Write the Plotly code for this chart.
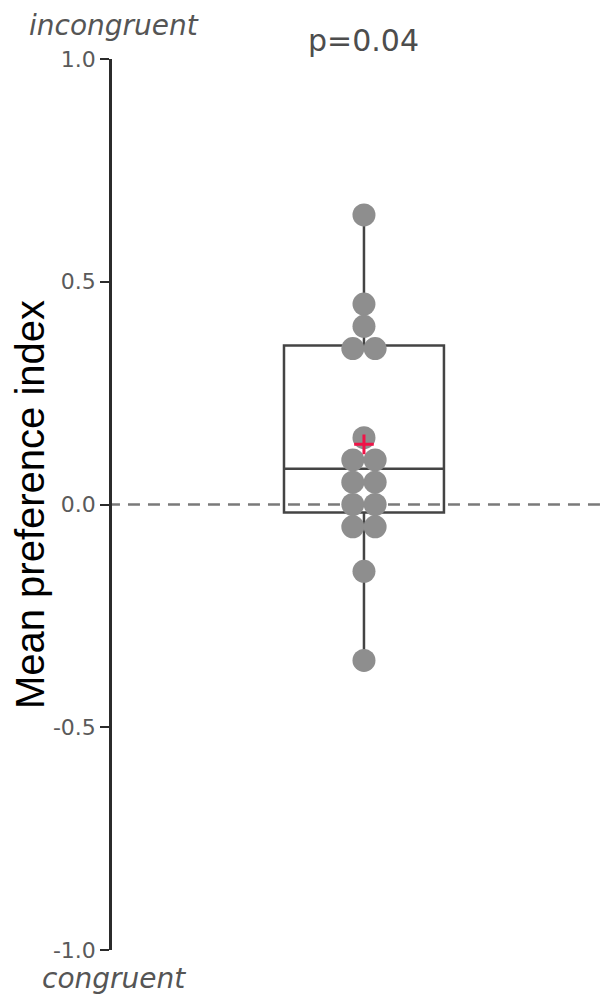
import plotly.graph_objects as go
from collections import Counter

# Data (dot-plot binned values)
values = [0.65, 0.45, 0.40, 0.35, 0.35, 0.15, 0.10, 0.10, 0.05, 0.05,
          0.00, 0.00, -0.05, -0.05, -0.15, -0.35]
box_q1 = -0.018
box_median = 0.08
box_q3 = 0.357
box_lower = -0.35
box_upper = 0.65
mean_value = 0.135
p_label = "p=0.04"
top_label = "incongruent"
bottom_label = "congruent"
y_title = "Mean preference index"
y_ticks = [-1.0, -0.5, 0.0, 0.5, 1.0]
y_ticktext = ["-1.0", "-0.5", "0.0", "0.5", "1.0"]

# stack duplicated values side by side (dot plot style)
counts = Counter(values)
seen = Counter()
dot_x, dot_y = [], []
spacing = 0.09
for v in values:
    n = counts[v]
    k = seen[v]
    seen[v] += 1
    dot_x.append((k - (n - 1) / 2) * spacing)
    dot_y.append(v)

fig = go.Figure()

fig.add_trace(go.Scatter(
    x=[-2, 2], y=[0, 0], mode="lines",
    line=dict(color="#7a7a7a", width=2.5, dash="12px,8px"),
    hoverinfo="skip", showlegend=False))

fig.add_trace(go.Scatter(
    x=dot_x, y=dot_y, mode="markers",
    marker=dict(size=23, color="#8e8e8e", line=dict(width=0)),
    showlegend=False))

fig.add_trace(go.Box(
    x=[0], q1=[box_q1], median=[box_median], q3=[box_q3],
    lowerfence=[box_lower], upperfence=[box_upper],
    width=0.645, whiskerwidth=0,
    line=dict(color="#444444", width=2.5),
    fillcolor="rgba(0,0,0,0)", boxpoints=False, showlegend=False))

fig.add_trace(go.Scatter(
    x=[0], y=[mean_value], mode="markers",
    marker=dict(symbol="cross-thin", size=14, color="#f01448",
                line=dict(width=3, color="#f01448")),
    showlegend=False))

fig.update_layout(
    width=600, height=990,
    margin=dict(l=104, r=0, t=51, b=48, autoexpand=False),
    paper_bgcolor="white", plot_bgcolor="white",
    font=dict(family="DejaVu Sans", color="#555555"),
    xaxis=dict(range=[-1.016, 0.984], visible=False, fixedrange=True),
    yaxis=dict(
        range=[-1, 1], tickvals=y_ticks, ticktext=y_ticktext,
        showgrid=False, zeroline=False, automargin=False,
        showline=True, linecolor="#2b2b2b", linewidth=2.5,
        ticks="outside", ticklen=9, tickwidth=2, tickcolor="#2b2b2b",
        tickfont=dict(family="DejaVu Sans", size=22, color="#5a5a5a"),
        title=dict(text=y_title, standoff=6,
                   font=dict(family="Liberation Sans", size=40, color="#000000")),
    ),
    annotations=[
        dict(text=top_label, xref="paper", yref="paper", x=0, y=1,
             xanchor="center", yanchor="middle", yshift=34, xshift=2, showarrow=False,
             font=dict(family="DejaVu Sans", size=28, color="#555555", style="italic")),
        dict(text=bottom_label, xref="paper", yref="paper", x=0, y=0,
             xanchor="center", yanchor="middle", yshift=-28, xshift=2, showarrow=False,
             font=dict(family="DejaVu Sans", size=28, color="#555555", style="italic")),
        dict(text=p_label, xref="x", yref="paper", x=0, y=1,
             xanchor="center", yanchor="middle", yshift=19, showarrow=False,
             font=dict(family="DejaVu Sans", size=30, color="#4d4d4d")),
    ],
)

fig.write_html("out.html")
